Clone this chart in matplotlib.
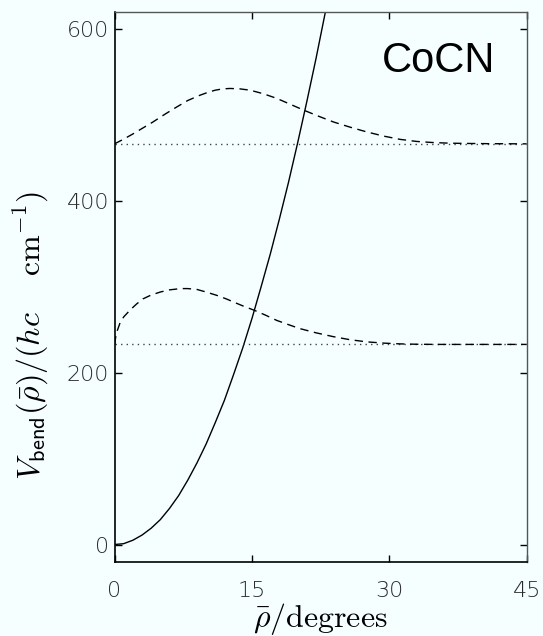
import numpy as np
import matplotlib
matplotlib.use("Agg")
import matplotlib.pyplot as plt

plt.rcParams['mathtext.fontset'] = 'cm'

# bending potential (solid)
rho_pot = [0, 1, 2, 3, 4, 5, 6, 7, 8, 9, 10, 11, 12, 13, 14, 15, 16, 17,
           18, 19, 20, 21, 22, 23, 24]
v_pot = [0, 1, 5, 11, 19, 29, 42, 57, 75, 95, 117, 142, 168, 198, 229, 263,
         300, 338, 379, 422, 468, 516, 566, 619, 674]

# energy levels (dotted)
levels = [233, 466.5]

# ground state density, offset by its level (dashed)
rho_g = [0, 0.2, 0.6, 1.0, 1.7, 2.4, 3.1, 4.0, 5.0, 6.0, 7.2, 8.0, 9.0, 10.0,
         11.2, 12.2, 13.3, 14.2, 15.2, 16.5, 17.7, 19.0, 20.2, 22.0, 23.9,
         25.7, 27.5, 29.4, 31.2, 33.0, 35.0, 40.0, 45.0]
v_g = [233, 246, 258, 265, 273, 280, 286, 290.5, 294, 296.5, 298, 298, 297,
       294, 290, 286, 281, 277, 273, 267, 261, 256, 251.5, 246.5, 242, 238.5,
       236, 234.5, 233.6, 233.2, 233, 233, 233]

# first excited state density (dashed)
rho_e = [0, 1.0, 2.0, 3.1, 4.2, 5.5, 6.8, 8.0, 9.3, 10.2, 11.0, 11.8, 12.6,
         13.7, 14.8, 16.2, 17.7, 19.1, 20.6, 22.2, 23.9, 25.7, 27.5, 29.4,
         31.2, 33.0, 34.8, 36.6, 38.4, 41.0, 45.0]
v_e = [466.5, 472, 478, 485, 492, 501, 509.5, 517, 523, 526.5, 529, 530.5,
       531, 530.5, 529, 525, 519.5, 513, 506, 499, 492, 486, 480.5, 475.5,
       471.7, 469.3, 468, 467.3, 467, 466.7, 466.5]

bg = '#F5FFFF'
fig = plt.figure(figsize=(5.43, 6.36), dpi=100, facecolor=bg)
ax = fig.add_axes([0.2109, 0.1168, 0.7591, 0.8643], facecolor=bg)

ax.plot(rho_pot, v_pot, color='black', lw=1.0)
for lev in levels:
    ax.axhline(lev, color='#444444', lw=1.0, linestyle=(0, (1, 3)))
ax.plot(rho_g, v_g, color='black', lw=1.0, linestyle=(0, (6, 4)))
ax.plot(rho_e, v_e, color='black', lw=1.0, linestyle=(0, (6, 4)))

ax.set_xlim(0, 45)
ax.set_ylim(-20, 620)
ax.set_xticks([0, 15, 30, 45])
ax.set_yticks([0, 200, 400, 600])
ax.tick_params(direction='in', length=5, width=1, top=True, right=True,
               labelsize=16, labelcolor='#2a2a2a')
ax.tick_params(axis='x', pad=14)
ax.tick_params(axis='y', pad=4)
for lab in ax.get_xticklabels() + ax.get_yticklabels():
    lab.set_fontweight('light')
for s in ['left', 'bottom']:
    ax.spines[s].set_linewidth(1.2)
for s in ['top', 'right']:
    ax.spines[s].set_color('#555555')
    ax.spines[s].set_linewidth(1.0)

ax.text(29.2, 550.5, 'CoCN', fontsize=30, family='Liberation Sans',
        ha='left', va='baseline')

ax.set_xlabel(r'$\bar{\rho}/\mathrm{degrees}$', fontsize=23, labelpad=0)
ax.set_ylabel(r'$V_{\mathsf{bend}}(\bar{\rho})/(hc\ \ \ \ \mathrm{cm}^{-1})$',
              fontsize=23)
ax.yaxis.set_label_coords(-0.155, 0.412)

fig.savefig('out.png', dpi=100, facecolor=bg)
